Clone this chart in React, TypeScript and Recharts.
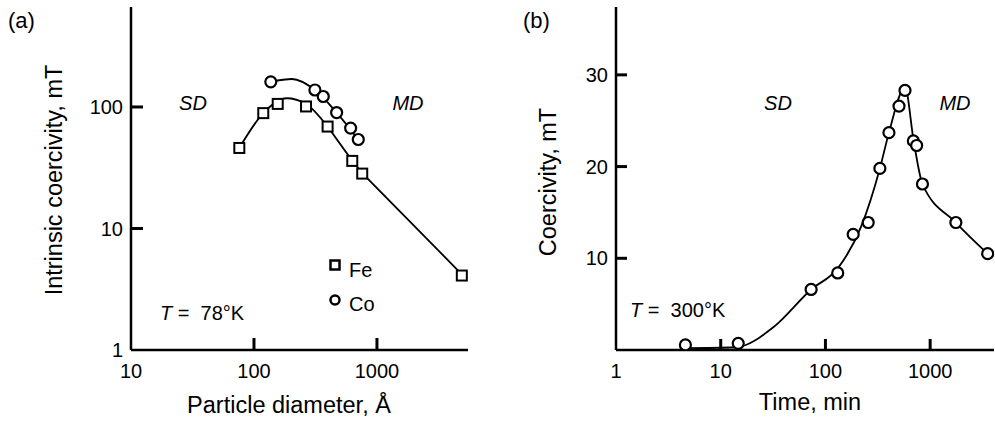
import React from "react";
import { ComposedChart, Line, Scatter, XAxis, YAxis } from "recharts";

const FONT = "'Liberation Sans', Arial, Helvetica, sans-serif";

// (a) intrinsic coercivity vs particle diameter, T = 78 K
const feDiameter = [76, 119, 156, 265, 397, 630, 759, 4900];
const feCoercivity = [46, 89, 106, 101, 69, 36, 28.3, 4.1];
const coDiameter = [137, 313, 366, 470, 611, 705];
const coCoercivity = [161, 138, 122, 90, 67, 54];
// fitted curves drawn through the points
const feCurveDiameter = [76, 119, 184, 265, 397];
const feCurveCoercivity = [46, 89, 118, 106, 69];
const feTailDiameter = [397, 630, 759, 4900];
const feTailCoercivity = [69, 36, 28.5, 4.2];
const coCurveDiameter = [137, 204, 313, 470, 705];
const coCurveCoercivity = [161, 170, 138, 90, 54];
const diameterTicks = [10, 100, 1000];
const intrinsicTicks = [1, 10, 100];
const diameterDomain = [10, 5500];
const intrinsicDomain = [1, 665];

// (b) coercivity vs annealing time, T = 300 K
const timeMin = [4.6, 14.7, 73, 131, 184, 256, 331, 404, 504, 575, 691, 743, 844, 1760, 3540];
const coercivity = [0.55, 0.73, 6.6, 8.4, 12.6, 13.9, 19.8, 23.7, 26.6, 28.3, 22.8, 22.3, 18.1, 13.9, 10.5];
const curveTime = [4.6, 14, 32, 73, 131, 220, 331, 404, 575, 700, 844, 1760, 3540];
const curveCoercivity = [0.2, 0.3, 2.5, 6.6, 8.9, 13.5, 19.8, 23.7, 28.6, 22.6, 18.1, 13.9, 10.5];
const timeTicks = [1, 10, 100, 1000];
const coercivityTicks = [10, 20, 30];
const timeDomain = [1, 4070];
const coercivityDomain = [0, 37.4];

// plot boxes (page pixels)
const A = { left: 131, right: 468, top: 7, bottom: 350 };
const B = { left: 616, right: 994, top: 7, bottom: 350 };

const pts = (xs: number[], ys: number[]) => xs.map((x, i) => ({ x, y: ys[i] }));
const logPos = (v: number, d: number[], a: number, b: number) =>
  a + ((Math.log10(v) - Math.log10(d[0])) / (Math.log10(d[1]) - Math.log10(d[0]))) * (b - a);
const linPos = (v: number, d: number[], a: number, b: number) => a + ((v - d[0]) / (d[1] - d[0])) * (b - a);

const Square = (p: any) => (
  <rect x={p.cx - 5} y={p.cy - 5} width={10} height={10} fill="#fff" stroke="#000" strokeWidth={2} />
);
const Circle = (p: any) => (
  <circle cx={p.cx} cy={p.cy} r={5.5} fill="#fff" stroke="#000" strokeWidth={2.2} />
);

const YTick = (p: any) => (
  <text x={Number(p.x)} y={Number(p.y)} dy="0.355em" textAnchor="end" fontSize={20} fontFamily={FONT} fill="#000">
    {p.payload.value}
  </text>
);
const XTick = (p: any) => (
  <text x={Number(p.x)} y={Number(p.y)} dy="0.71em" textAnchor="middle" fontSize={20} fontFamily={FONT} fill="#000">
    {p.payload.value}
  </text>
);

const axisLine = { stroke: "#000", strokeWidth: 2.5 };

const App = () => {
  return (
    <div style={{ position: "absolute", left: 0, top: 0, width: 995, height: 421, background: "#fff" }}>
      <div style={{ position: "absolute", left: 0, top: 0 }}>
        <ComposedChart width={480} height={421} margin={{ top: 7, right: 12, bottom: 0, left: 0 }}>
          <XAxis
            type="number"
            dataKey="x"
            scale="log"
            domain={diameterDomain}
            allowDataOverflow
            ticks={diameterTicks}
            height={71}
            tick={XTick}
            tickSize={0}
            tickMargin={14}
            axisLine={axisLine}
            tickLine={false}
          />
          <YAxis
            type="number"
            dataKey="y"
            scale="log"
            domain={intrinsicDomain}
            allowDataOverflow
            ticks={intrinsicTicks}
            width={131}
            tick={YTick}
            tickSize={0}
            tickMargin={8}
            axisLine={axisLine}
            tickLine={false}
          />
          <Line
            data={pts(feCurveDiameter, feCurveCoercivity)}
            dataKey="y"
            type="monotone"
            stroke="#000"
            strokeWidth={1.8}
            dot={false}
            isAnimationActive={false}
          />
          <Line
            data={pts(feTailDiameter, feTailCoercivity)}
            dataKey="y"
            type="linear"
            stroke="#000"
            strokeWidth={1.8}
            dot={false}
            isAnimationActive={false}
          />
          <Line
            data={pts(coCurveDiameter, coCurveCoercivity)}
            dataKey="y"
            type="monotone"
            stroke="#000"
            strokeWidth={1.8}
            dot={false}
            isAnimationActive={false}
          />
          <Scatter name="Fe" data={pts(feDiameter, feCoercivity)} shape={Square} isAnimationActive={false} />
          <Scatter name="Co" data={pts(coDiameter, coCoercivity)} shape={Circle} isAnimationActive={false} />
        </ComposedChart>
      </div>
      <div style={{ position: "absolute", left: 500, top: 0 }}>
        <ComposedChart width={495} height={421} margin={{ top: 7, right: 1, bottom: 0, left: 0 }}>
          <XAxis
            type="number"
            dataKey="x"
            scale="log"
            domain={timeDomain}
            allowDataOverflow
            ticks={timeTicks}
            height={71}
            tick={XTick}
            tickSize={0}
            tickMargin={14}
            axisLine={axisLine}
            tickLine={false}
          />
          <YAxis
            type="number"
            dataKey="y"
            domain={coercivityDomain}
            allowDataOverflow
            ticks={coercivityTicks}
            width={116}
            tick={YTick}
            tickSize={0}
            tickMargin={8}
            axisLine={axisLine}
            tickLine={false}
          />
          <Line
            data={pts(curveTime, curveCoercivity)}
            dataKey="y"
            type="monotone"
            stroke="#000"
            strokeWidth={1.8}
            dot={false}
            isAnimationActive={false}
          />
          <Scatter data={pts(timeMin, coercivity)} shape={Circle} isAnimationActive={false} />
        </ComposedChart>
      </div>
      <svg
        width={995}
        height={421}
        style={{ position: "absolute", left: 0, top: 0, pointerEvents: "none" }}
        fontFamily={FONT}
      >
        {/* inward tick marks */}
        {intrinsicTicks.slice(1).map((v) => {
          const y = logPos(v, intrinsicDomain, A.bottom, A.top);
          return <path key={"ay" + v} d={`M${A.left},${y}H${A.left + 12}`} stroke="#000" strokeWidth={3} fill="none" />;
        })}
        {diameterTicks.slice(1).map((v) => {
          const x = logPos(v, diameterDomain, A.left, A.right);
          return <path key={"ax" + v} d={`M${x},${A.bottom}V${A.bottom - 12}`} stroke="#000" strokeWidth={3} fill="none" />;
        })}
        {coercivityTicks.map((v) => {
          const y = linPos(v, coercivityDomain, B.bottom, B.top);
          return <path key={"by" + v} d={`M${B.left},${y}H${B.left + 11}`} stroke="#000" strokeWidth={3} fill="none" />;
        })}
        {timeTicks.slice(1).map((v) => {
          const x = logPos(v, timeDomain, B.left, B.right);
          return <path key={"bx" + v} d={`M${x},${B.bottom}V${B.bottom - 11}`} stroke="#000" strokeWidth={3} fill="none" />;
        })}
        <text x={8} y={28} fontSize={22}>(a)</text>
        <text x={523} y={28} fontSize={22}>(b)</text>
        <text x={62} y={180} fontSize={23.5} textAnchor="middle" transform="rotate(-90 62 180)">
          Intrinsic coercivity, mT
        </text>
        <text x={289} y={413} fontSize={23.5} textAnchor="middle">Particle diameter, Å</text>
        <text x={556} y={182} fontSize={23.5} textAnchor="middle" transform="rotate(-90 556 182)">
          Coercivity, mT
        </text>
        <text x={810} y={410} fontSize={23.5} textAnchor="middle">Time, min</text>
        <text x={193} y={110} fontSize={20} fontStyle="italic" textAnchor="middle">SD</text>
        <text x={408} y={110} fontSize={20} fontStyle="italic" textAnchor="middle">MD</text>
        <text x={778} y={110} fontSize={20} fontStyle="italic" textAnchor="middle">SD</text>
        <text x={955} y={110} fontSize={20} fontStyle="italic" textAnchor="middle">MD</text>
        <text x={160} y={320} fontSize={20} xmlSpace="preserve">
          <tspan fontStyle="italic">T</tspan>{" =  78°K"}
        </text>
        <text x={630} y={317} fontSize={20} xmlSpace="preserve">
          <tspan fontStyle="italic">T</tspan>{" =  300°K"}
        </text>
        {/* legend */}
        <rect x={330.5} y={260.5} width={9} height={9} fill="#fff" stroke="#000" strokeWidth={2.5} />
        <text x={349} y={277} fontSize={20}>Fe</text>
        <circle cx={335} cy={300} r={4.5} fill="#fff" stroke="#000" strokeWidth={2.5} />
        <text x={349} y={311} fontSize={20}>Co</text>
      </svg>
    </div>
  );
};

export default App;
